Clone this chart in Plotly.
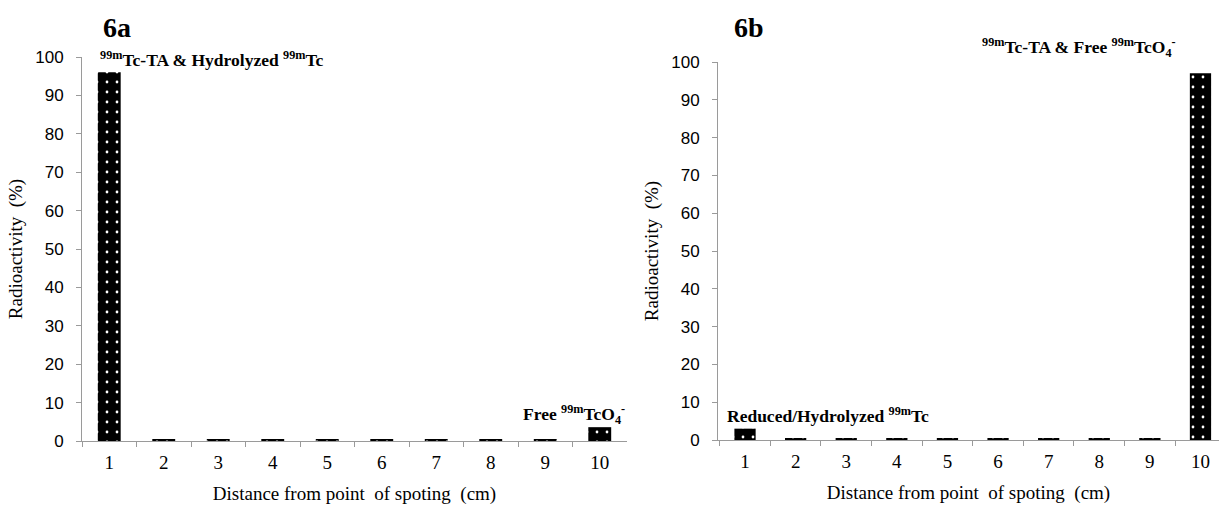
import plotly.graph_objects as go

categories = ["1", "2", "3", "4", "5", "6", "7", "8", "9", "10"]
values_6a = [96, 0.3, 0.3, 0.3, 0.3, 0.3, 0.3, 0.3, 0.3, 3.6]
values_6b = [3, 0.3, 0.3, 0.3, 0.3, 0.3, 0.3, 0.3, 0.3, 97]
y_ticks = [0, 10, 20, 30, 40, 50, 60, 70, 80, 90, 100]

FONT = "Liberation Serif, Times New Roman, serif"
SANS = "Liberation Sans, Arial, sans-serif"
AXC = "#9a9a9a"

pattern = dict(shape=".", fgcolor="white", bgcolor="black", size=10, solidity=0.06, fillmode="replace")

fig = go.Figure()
fig.add_trace(go.Bar(x=categories, y=values_6a, width=0.42, xaxis="x", yaxis="y",
                     marker=dict(color="black", pattern=pattern, line=dict(width=0)), showlegend=False))
fig.add_trace(go.Bar(x=categories, y=values_6b, width=0.42, xaxis="x2", yaxis="y2",
                     marker=dict(color="black", pattern=pattern, line=dict(width=0)), showlegend=False))

W, H = 1219, 505

def xax(domain, rng):
    return dict(domain=domain, type="category", range=rng, showline=True, linecolor=AXC, linewidth=1,
                ticks="outside", tickson="boundaries", ticklen=5, tickcolor=AXC, showgrid=False,
                zeroline=False, automargin=False, ticklabelstandoff=4,
                tickfont=dict(family=FONT, size=19, color="black"),
                title=dict(text="Distance from point&#160; of spoting&#160; (cm)",
                           font=dict(family=FONT, size=19, color="black"), standoff=14))

def yax(domain, anchor):
    return dict(domain=domain, anchor=anchor, range=[0, 100], tickvals=y_ticks, showline=True, linecolor=AXC,
                linewidth=1, ticks="outside", ticklen=5, tickcolor=AXC, showgrid=False, zeroline=False,
                automargin=False, ticklabelstandoff=9, tickfont=dict(family=SANS, size=17, color="black"),
                title=dict(text="Radioactivity&#160; (%)", font=dict(family=FONT, size=19, color="black"), standoff=7))

fig.update_layout(
    width=W, height=H, margin=dict(l=0, r=0, t=0, b=0, autoexpand=False),
    paper_bgcolor="white", plot_bgcolor="white",
    font=dict(family=FONT),
    xaxis=dict(**xax([82 / W, 627 / W], [-0.5, 9.5]), anchor="y"),
    yaxis=yax([1 - 441 / H, 1 - 57 / H], "x"),
    xaxis2=dict(**xax([718 / W, 1.0], [-0.534, 9.366]), anchor="y2"),
    yaxis2=yax([1 - 440 / H, 1 - 62 / H], "x2"),
    bargap=0.58,
)

lab = dict(family=FONT, size=17.5, color="black")
fig.add_annotation(text="<b><sup>99m</sup>Tc-TA &amp; Hydrolyzed <sup>99m</sup>Tc</b>", x=-0.21, y=99.5,
                   xref="x", yref="y", xanchor="left", yanchor="middle", showarrow=False, font=lab)
fig.add_annotation(text="<b>Free <sup>99m</sup>TcO<sub>4</sub><sup>-</sup></b>", x=9.5, y=7,
                   xref="x", yref="y", xanchor="right", yanchor="middle", showarrow=False, font=lab)
fig.add_annotation(text="<b>Reduced/Hydrolyzed <sup>99m</sup>Tc</b>", x=-0.4, y=6.6,
                   xref="x2", yref="y2", xanchor="left", yanchor="middle", showarrow=False, font=lab)
fig.add_annotation(text="<b><sup>99m</sup>Tc-TA &amp; Free <sup>99m</sup>TcO<sub>4</sub><sup>-</sup></b>",
                   x=980 / W, y=1 - 48 / H, xref="paper", yref="paper", xanchor="left", yanchor="middle",
                   showarrow=False, font=lab)

fig.add_annotation(text="<b>6a</b>", x=101 / W, y=1 - 27 / H, xref="paper", yref="paper",
                   xanchor="left", yanchor="middle", showarrow=False, font=dict(family=FONT, size=28, color="black"))
fig.add_annotation(text="<b>6b</b>", x=732 / W, y=1 - 27 / H, xref="paper", yref="paper",
                   xanchor="left", yanchor="middle", showarrow=False, font=dict(family=FONT, size=28, color="black"))

fig.write_html("out.html")
